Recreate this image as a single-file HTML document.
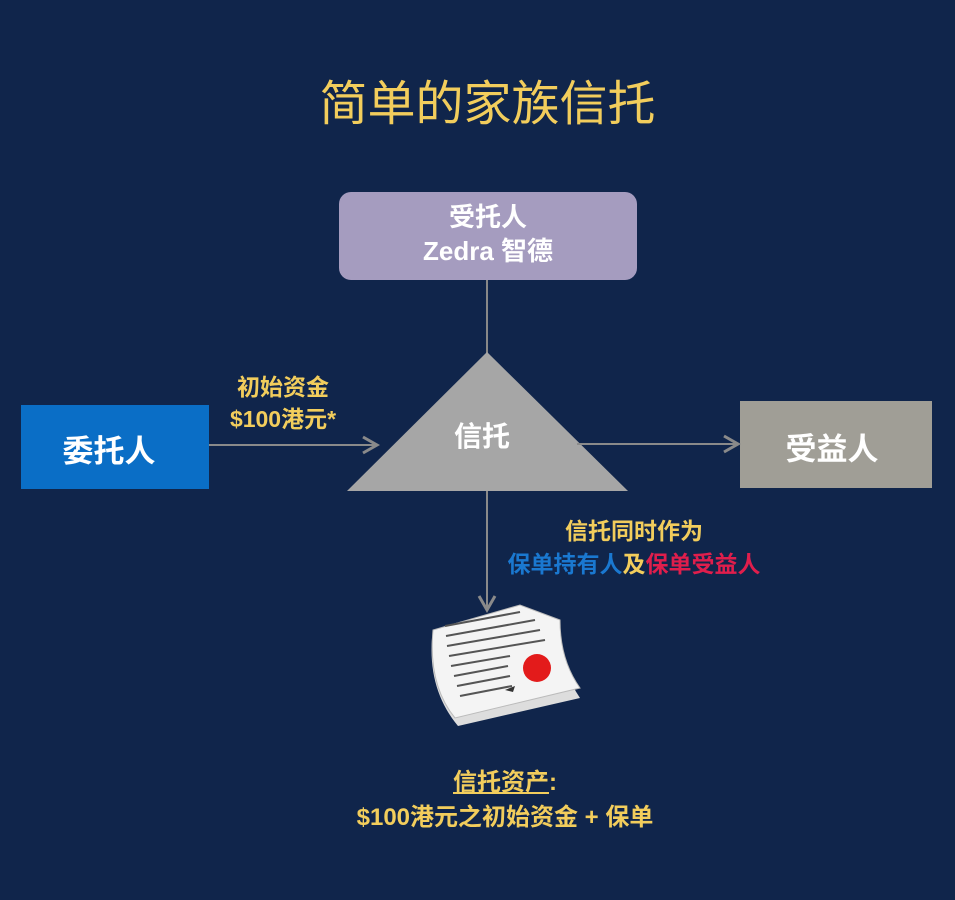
<!DOCTYPE html>
<html><head><meta charset="utf-8"><style>
body{margin:0;width:955px;height:900px;background:#10254b;overflow:hidden;font-family:"Liberation Sans","Noto Sans CJK SC",sans-serif;}
.t{position:absolute;white-space:nowrap;font-weight:bold;}
</style></head><body>
<svg width="955" height="900" style="position:absolute;left:0;top:0">
<defs><marker id="a" markerWidth="10" markerHeight="10" refX="8" refY="5" orient="auto"><path d="M1,1 L8,5 L1,9" fill="none" stroke="#8a8a8a" stroke-width="1.5"/></marker></defs>
<rect x="339" y="192" width="298" height="88" rx="12" fill="#a59cbf"/>
<line x1="487" y1="280" x2="487" y2="355" stroke="#888" stroke-width="2"/>
<polygon points="487,352 628,491 347,491" fill="#a6a6a6"/>
<rect x="21" y="405" width="188" height="84" fill="#0a6ec6"/>
<rect x="740" y="401" width="192" height="87" fill="#a09e96"/>
<line x1="209" y1="445" x2="377" y2="445" stroke="#8a8a8a" stroke-width="2" marker-end="url(#a)"/>
<line x1="577" y1="444" x2="738" y2="444" stroke="#8a8a8a" stroke-width="2" marker-end="url(#a)"/>
<line x1="487" y1="491" x2="487" y2="610" stroke="#8a8a8a" stroke-width="2" marker-end="url(#a)"/>
<path d="M432,638 Q428,690 458,726 L580,698 Q562,672 560,632 Z" fill="#ddd"/>
<path d="M433,630 Q428,685 455,718 L580,688 Q560,660 560,620 L520,605 Z" fill="#f4f4f4" stroke="#bbb"/>
<g stroke="#555" stroke-width="2">
<line x1="445" y1="626" x2="520" y2="612"/><line x1="446" y1="636" x2="535" y2="620"/>
<line x1="447" y1="646" x2="540" y2="630"/><line x1="449" y1="656" x2="545" y2="640"/>
<line x1="451" y1="666" x2="510" y2="656"/><line x1="454" y1="676" x2="508" y2="666"/>
<line x1="457" y1="686" x2="510" y2="676"/><line x1="460" y1="696" x2="512" y2="686"/>
</g>
<circle cx="537" cy="668" r="14" fill="#e31b1b"/>
<path d="M505,690 l10,-4 l-2,6z" fill="#333"/>
</svg>
<div class="t" style="left:0;width:975px;top:64px;text-align:center;color:#f2cd5c;font-size:48px;font-weight:normal">简单的家族信托</div>
<div class="t" style="left:339px;width:298px;top:200px;text-align:center;color:#fff;font-size:26px;line-height:34px">受托人<br>Zedra 智德</div>
<div class="t" style="left:15px;width:188px;top:426px;text-align:center;color:#fff;font-size:31px">委托人</div>
<div class="t" style="left:736px;width:192px;top:424px;text-align:center;color:#fff;font-size:31px">受益人</div>
<div class="t" style="left:432px;width:100px;top:415px;text-align:center;color:#fff;font-size:28px">信托</div>
<div class="t" style="left:183px;width:200px;top:371px;text-align:center;color:#f2cd5c;font-size:23px;line-height:32px">初始资金<br>$100港元*</div>
<div class="t" style="left:484px;width:300px;top:515px;text-align:center;color:#f2cd5c;font-size:23px;line-height:33px">信托同时作为<br><span style="color:#1a78d0">保单持有人</span>及<span style="color:#e01e4c">保单受益人</span></div>
<div class="t" style="left:305px;width:400px;top:765px;text-align:center;color:#f2cd5c;font-size:24px;line-height:35px"><u>信托资产</u>:<br>$100港元之初始资金 + 保单</div>
</body></html>
